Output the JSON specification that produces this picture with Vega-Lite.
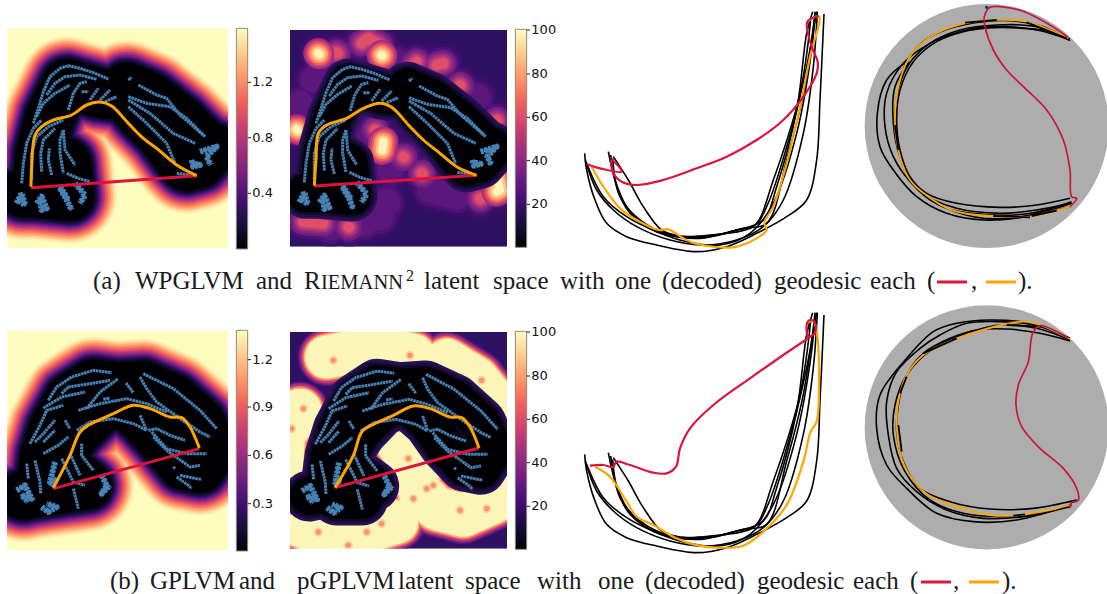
{"$schema":"https://vega.github.io/schema/vega-lite/v6.json","width":1107,"height":594,"padding":0,"autosize":"none","background":"white","config":{"view":{"stroke":null}},
"datasets":{
"bg":[{"k":"c","x":21,"x2":684,"y":85,"y2":745},{"k":"c","x":21,"x2":684,"y":991,"y2":1651},{"k":"p","x":870,"x2":1521,"y":90,"y2":740},{"k":"p","x":870,"x2":1521,"y":996,"y2":1646}],
"masks":[{"x":0,"x2":21,"y":0,"y2":1782},{"x":684,"x2":870,"y":0,"y2":1782},{"x":1521,"x2":1650,"y":0,"y2":1782},{"x":0,"x2":870,"y":0,"y2":85},{"x":0,"x2":870,"y":745,"y2":991},{"x":0,"x2":870,"y":1651,"y2":1782},{"x":870,"x2":1521,"y":0,"y2":90},{"x":870,"x2":1521,"y":740,"y2":996},{"x":870,"x2":1521,"y":1646,"y2":1782}],
"cb":[{"x":709,"x2":743,"y":85,"y2":747},{"x":1546,"x2":1580,"y":88,"y2":742},{"x":709,"x2":743,"y":991,"y2":1653},{"x":1546,"x2":1580,"y":994,"y2":1648}],
"ticks":[{"x":743,"x2":753,"tx":757,"y":247,"label":"1.2"},{"x":743,"x2":753,"tx":757,"y":413,"label":"0.8"},{"x":743,"x2":753,"tx":757,"y":580,"label":"0.4"},{"x":1580,"x2":1590,"tx":1594,"y":90,"label":"100"},{"x":1580,"x2":1590,"tx":1594,"y":222,"label":"80"},{"x":1580,"x2":1590,"tx":1594,"y":352,"label":"60"},{"x":1580,"x2":1590,"tx":1594,"y":482,"label":"40"},{"x":1580,"x2":1590,"tx":1594,"y":613,"label":"20"},{"x":743,"x2":753,"tx":757,"y":1079,"label":"1.2"},{"x":743,"x2":753,"tx":757,"y":1221,"label":"0.9"},{"x":743,"x2":753,"tx":757,"y":1366,"label":"0.6"},{"x":743,"x2":753,"tx":757,"y":1511,"label":"0.3"},{"x":1580,"x2":1590,"tx":1594,"y":996,"label":"100"},{"x":1580,"x2":1590,"tx":1594,"y":1128,"label":"80"},{"x":1580,"x2":1590,"tx":1594,"y":1258,"label":"60"},{"x":1580,"x2":1590,"tx":1594,"y":1388,"label":"40"},{"x":1580,"x2":1590,"tx":1594,"y":1519,"label":"20"}],
"discs":[{"x":2960,"y":378},{"x":2960,"y":1282}],
"nav":[{"x":2960,"y":22}],
"spots":[{"x":1000,"y":1081},{"x":1230,"y":1066},{"x":1445,"y":1141},{"x":910,"y":1226},{"x":875,"y":1286},{"x":1225,"y":1376},{"x":1240,"y":1496},{"x":1280,"y":1466},{"x":1300,"y":1456},{"x":1380,"y":1531},{"x":1460,"y":1526},{"x":955,"y":1596},{"x":1100,"y":1596},{"x":1145,"y":1571},{"x":1045,"y":1636}],
"txt":[{"k":"m","x":279,"y":867,"label":"(a)"},{"k":"m","x":405,"y":867,"label":"WPGLVM"},{"k":"m","x":768,"y":867,"label":"and"},{"k":"m","x":912,"y":867,"label":"R"},{"k":"c","x":963,"y":867,"label":"IEMANN"},{"k":"s","x":1218,"y":843,"label":"2"},{"k":"m","x":1272,"y":867,"label":"latent"},{"k":"m","x":1479,"y":867,"label":"space"},{"k":"m","x":1680,"y":867,"label":"with"},{"k":"m","x":1845,"y":867,"label":"one"},{"k":"m","x":1986,"y":867,"label":"(decoded)"},{"k":"m","x":2322,"y":867,"label":"geodesic"},{"k":"m","x":2610,"y":867,"label":"each"},{"k":"m","x":2781,"y":867,"label":"("},{"k":"m","x":2913,"y":867,"label":","},{"k":"m","x":3054,"y":867,"label":")."},{"k":"m","x":330,"y":1767,"label":"(b)"},{"k":"m","x":450,"y":1767,"label":"GPLVM"},{"k":"m","x":717,"y":1767,"label":"and"},{"k":"m","x":891,"y":1767,"label":"pGPLVM"},{"k":"m","x":1194,"y":1767,"label":"latent"},{"k":"m","x":1395,"y":1767,"label":"space"},{"k":"m","x":1611,"y":1767,"label":"with"},{"k":"m","x":1794,"y":1767,"label":"one"},{"k":"m","x":1935,"y":1767,"label":"(decoded)"},{"k":"m","x":2271,"y":1767,"label":"geodesic"},{"k":"m","x":2559,"y":1767,"label":"each"},{"k":"m","x":2730,"y":1767,"label":"("},{"k":"m","x":2859,"y":1767,"label":","},{"k":"m","x":3006,"y":1767,"label":")."}],
"paths":[
{"g":"s1","p":1,"x":110,"y":570},{"g":"s1","p":1,"x":120,"y":460},{"g":"s1","p":1,"x":150,"y":350},{"g":"s1","p":1,"x":200,"y":250},{"g":"s1","p":1,"x":300,"y":280},{"g":"s1","p":1,"x":380,"y":290},{"g":"s1","p":1,"x":420,"y":340},{"g":"s1","p":1,"x":480,"y":400},{"g":"s1","p":1,"x":540,"y":480},{"g":"s1","p":1,"x":560,"y":500},
{"g":"s1","p":2,"x":380,"y":260},{"g":"s1","p":2,"x":450,"y":290},{"g":"s1","p":2,"x":540,"y":360},{"g":"s1","p":2,"x":610,"y":430},{"g":"s1","p":2,"x":640,"y":445},{"g":"s1","p":2,"x":600,"y":490},{"g":"s1","p":2,"x":560,"y":500},
{"g":"s1","p":3,"x":70,"y":580},{"g":"s1","p":3,"x":110,"y":580},{"g":"s1","p":3,"x":210,"y":590},{"g":"s1","p":3,"x":200,"y":490},{"g":"s1","p":3,"x":150,"y":460},
{"g":"s1","p":4,"x":70,"y":1486},{"g":"s1","p":4,"x":120,"y":1476},{"g":"s1","p":4,"x":135,"y":1366},{"g":"s1","p":4,"x":160,"y":1286},{"g":"s1","p":4,"x":210,"y":1196},{"g":"s1","p":4,"x":280,"y":1151},{"g":"s1","p":4,"x":350,"y":1161},{"g":"s1","p":4,"x":430,"y":1156},{"g":"s1","p":4,"x":520,"y":1196},{"g":"s1","p":4,"x":600,"y":1266},{"g":"s1","p":4,"x":640,"y":1346},
{"g":"s1","p":5,"x":120,"y":1476},{"g":"s1","p":5,"x":262,"y":1456},{"g":"s1","p":5,"x":170,"y":1386},{"g":"s1","p":5,"x":230,"y":1296},{"g":"s1","p":5,"x":300,"y":1226},{"g":"s1","p":5,"x":370,"y":1206},{"g":"s1","p":5,"x":430,"y":1258},{"g":"s1","p":5,"x":495,"y":1330},{"g":"s1","p":5,"x":550,"y":1396},{"g":"s1","p":5,"x":600,"y":1406},{"g":"s1","p":5,"x":640,"y":1346},
{"g":"s2","p":1,"x":958,"y":570},{"g":"s2","p":1,"x":968,"y":460},{"g":"s2","p":1,"x":998,"y":352},{"g":"s2","p":1,"x":1046,"y":252},{"g":"s2","p":1,"x":1145,"y":282},{"g":"s2","p":1,"x":1223,"y":292},{"g":"s2","p":1,"x":1262,"y":342},{"g":"s2","p":1,"x":1322,"y":402},{"g":"s2","p":1,"x":1381,"y":480},{"g":"s2","p":1,"x":1400,"y":500},
{"g":"s2","p":2,"x":1223,"y":262},{"g":"s2","p":2,"x":1292,"y":292},{"g":"s2","p":2,"x":1381,"y":362},{"g":"s2","p":2,"x":1450,"y":430},{"g":"s2","p":2,"x":1480,"y":445},{"g":"s2","p":2,"x":1440,"y":490},{"g":"s2","p":2,"x":1400,"y":500},
{"g":"s2","p":3,"x":918,"y":580},{"g":"s2","p":3,"x":958,"y":580},{"g":"s2","p":3,"x":1056,"y":588},{"g":"s2","p":3,"x":1046,"y":490},{"g":"s2","p":3,"x":998,"y":460},
{"g":"s2","p":4,"x":927,"y":1488},{"g":"s2","p":4,"x":976,"y":1478},{"g":"s2","p":4,"x":990,"y":1368},{"g":"s2","p":4,"x":1015,"y":1288},{"g":"s2","p":4,"x":1063,"y":1198},{"g":"s2","p":4,"x":1131,"y":1153},{"g":"s2","p":4,"x":1199,"y":1163},{"g":"s2","p":4,"x":1277,"y":1158},{"g":"s2","p":4,"x":1364,"y":1198},{"g":"s2","p":4,"x":1442,"y":1268},{"g":"s2","p":4,"x":1480,"y":1348},
{"g":"s2","p":5,"x":976,"y":1478},{"g":"s2","p":5,"x":1121,"y":1458},{"g":"s2","p":5,"x":1024,"y":1388},{"g":"s2","p":5,"x":1083,"y":1298},{"g":"s2","p":5,"x":1150,"y":1228},{"g":"s2","p":5,"x":1218,"y":1208},{"g":"s2","p":5,"x":1286,"y":1268},{"g":"s2","p":5,"x":1335,"y":1338},{"g":"s2","p":5,"x":1393,"y":1398},{"g":"s2","p":5,"x":1442,"y":1408},{"g":"s2","p":5,"x":1480,"y":1348},
{"g":"s2","p":6,"x":976,"y":1478},{"g":"s2","p":6,"x":1010,"y":1500},{"g":"s2","p":6,"x":1087,"y":1500},
{"g":"rh","p":1,"x":955,"y":160},{"g":"rh","p":1,"x":958,"y":163},{"g":"rh","p":2,"x":1145,"y":165},{"g":"rh","p":2,"x":1147,"y":167},{"g":"rh","p":3,"x":1150,"y":425},{"g":"rh","p":3,"x":1147,"y":450},{"g":"rh","p":4,"x":1490,"y":530},{"g":"rh","p":4,"x":1500,"y":570},{"g":"rh","p":4,"x":1490,"y":575},{"g":"rh","p":5,"x":890,"y":388},{"g":"rh","p":5,"x":892,"y":390},
{"g":"rm","p":6,"x":1010,"y":158},{"g":"rm","p":6,"x":1013,"y":160},{"g":"rm","p":7,"x":1085,"y":130},{"g":"rm","p":7,"x":1105,"y":115},{"g":"rm","p":7,"x":1140,"y":135},{"g":"rm","p":7,"x":1145,"y":165},{"g":"rm","p":8,"x":1250,"y":185},{"g":"rm","p":8,"x":1243,"y":192},{"g":"rm","p":9,"x":1310,"y":195},{"g":"rm","p":9,"x":1330,"y":190},{"g":"rm","p":10,"x":1380,"y":255},{"g":"rm","p":10,"x":1382,"y":257},{"g":"rm","p":11,"x":1125,"y":390},{"g":"rm","p":11,"x":1127,"y":392},{"g":"rm","p":12,"x":1210,"y":470},{"g":"rm","p":12,"x":1212,"y":472},{"g":"rm","p":13,"x":1265,"y":520},{"g":"rm","p":13,"x":1267,"y":522},{"g":"rm","p":14,"x":1440,"y":595},{"g":"rm","p":14,"x":1442,"y":597},{"g":"rm","p":15,"x":1045,"y":680},{"g":"rm","p":15,"x":1047,"y":682},{"g":"rm","p":16,"x":910,"y":665},{"g":"rm","p":16,"x":970,"y":670},{"g":"rm","p":17,"x":1490,"y":360},{"g":"rm","p":17,"x":1492,"y":362},
{"g":"rl","p":18,"x":940,"y":240},{"g":"rl","p":18,"x":975,"y":195},{"g":"rl","p":19,"x":1190,"y":185},{"g":"rl","p":19,"x":1192,"y":187},{"g":"rl","p":20,"x":1430,"y":290},{"g":"rl","p":20,"x":1432,"y":292},{"g":"rl","p":21,"x":1110,"y":410},{"g":"rl","p":21,"x":1130,"y":430},{"g":"rl","p":22,"x":1170,"y":510},{"g":"rl","p":22,"x":1172,"y":512},{"g":"rl","p":23,"x":1290,"y":570},{"g":"rl","p":23,"x":1370,"y":590},{"g":"rl","p":24,"x":1160,"y":605},{"g":"rl","p":24,"x":1162,"y":607},{"g":"rl","p":25,"x":1140,"y":650},{"g":"rl","p":25,"x":1142,"y":652},{"g":"rl","p":26,"x":880,"y":650},{"g":"rl","p":26,"x":882,"y":652},{"g":"rl","p":27,"x":900,"y":310},{"g":"rl","p":27,"x":870,"y":350},{"g":"rl","p":28,"x":1090,"y":670},{"g":"rl","p":28,"x":1092,"y":672},{"g":"rl","p":29,"x":990,"y":680},{"g":"rl","p":29,"x":992,"y":682},
{"g":"rb","p":1,"x":980,"y":1071},{"g":"rb","p":1,"x":1080,"y":1051},{"g":"rb","p":1,"x":1160,"y":1046},{"g":"rb","p":1,"x":1240,"y":1066},{"g":"rb","p":2,"x":1340,"y":1081},{"g":"rb","p":2,"x":1430,"y":1136},{"g":"rb","p":2,"x":1490,"y":1211},{"g":"rb","p":3,"x":900,"y":1231},{"g":"rb","p":3,"x":850,"y":1306},{"g":"rb","p":3,"x":845,"y":1396},{"g":"rb","p":4,"x":900,"y":1576},{"g":"rb","p":4,"x":970,"y":1606},{"g":"rb","p":4,"x":1110,"y":1591},{"g":"rb","p":4,"x":1190,"y":1566},{"g":"rb","p":5,"x":1190,"y":1326},{"g":"rb","p":5,"x":1240,"y":1396},{"g":"rb","p":5,"x":1260,"y":1476},{"g":"rb","p":5,"x":1310,"y":1526},{"g":"rb","p":5,"x":1390,"y":1546},{"g":"rb","p":5,"x":1480,"y":1506},{"g":"rb","p":5,"x":1490,"y":1416},{"g":"rb","p":5,"x":1500,"y":1366},
{"g":"t","p":1,"x":100,"y":370},{"g":"t","p":1,"x":115,"y":325},{"g":"t","p":1,"x":130,"y":275},{"g":"t","p":1,"x":150,"y":230},{"g":"t","p":1,"x":180,"y":205},{"g":"t","p":1,"x":205,"y":197},{"g":"t","p":1,"x":240,"y":205},{"g":"t","p":1,"x":280,"y":218},{"g":"t","p":1,"x":325,"y":237},
{"g":"t","p":2,"x":140,"y":285},{"g":"t","p":2,"x":165,"y":250},{"g":"t","p":2,"x":195,"y":230},{"g":"t","p":2,"x":240,"y":225},{"g":"t","p":2,"x":290,"y":238},
{"g":"t","p":3,"x":110,"y":350},{"g":"t","p":3,"x":130,"y":310},{"g":"t","p":3,"x":165,"y":280},{"g":"t","p":3,"x":210,"y":255},
{"g":"t","p":4,"x":205,"y":330},{"g":"t","p":4,"x":220,"y":280},{"g":"t","p":4,"x":240,"y":250},{"g":"t","p":4,"x":260,"y":245},
{"g":"t","p":5,"x":245,"y":275},{"g":"t","p":5,"x":265,"y":275},{"g":"t","p":6,"x":270,"y":300},{"g":"t","p":6,"x":295,"y":265},{"g":"t","p":7,"x":300,"y":300},{"g":"t","p":7,"x":330,"y":270},{"g":"t","p":8,"x":315,"y":305},{"g":"t","p":8,"x":350,"y":290},
{"g":"t","p":9,"x":65,"y":550},{"g":"t","p":9,"x":70,"y":490},{"g":"t","p":9,"x":80,"y":430},{"g":"t","p":9,"x":100,"y":385},{"g":"t","p":9,"x":125,"y":360},
{"g":"t","p":10,"x":95,"y":540},{"g":"t","p":10,"x":95,"y":460},{"g":"t","p":10,"x":110,"y":410},{"g":"t","p":10,"x":145,"y":380},{"g":"t","p":10,"x":190,"y":360},
{"g":"t","p":11,"x":125,"y":515},{"g":"t","p":11,"x":122,"y":460},{"g":"t","p":11,"x":130,"y":420},{"g":"t","p":11,"x":165,"y":385},
{"g":"t","p":12,"x":155,"y":525},{"g":"t","p":12,"x":145,"y":480},{"g":"t","p":12,"x":148,"y":445},
{"g":"t","p":13,"x":190,"y":390},{"g":"t","p":13,"x":180,"y":420},{"g":"t","p":13,"x":180,"y":460},{"g":"t","p":13,"x":190,"y":520},
{"g":"t","p":14,"x":190,"y":390},{"g":"t","p":14,"x":195,"y":450},{"g":"t","p":14,"x":225,"y":495},
{"g":"t","p":15,"x":50,"y":610},{"g":"t","p":15,"x":65,"y":580},{"g":"t","p":15,"x":75,"y":615},{"g":"t","p":15,"x":55,"y":600},{"g":"t","p":15,"x":70,"y":590},
{"g":"t","p":16,"x":110,"y":610},{"g":"t","p":16,"x":125,"y":590},{"g":"t","p":16,"x":140,"y":625},{"g":"t","p":16,"x":125,"y":630},{"g":"t","p":16,"x":120,"y":600},
{"g":"t","p":17,"x":180,"y":565},{"g":"t","p":17,"x":200,"y":600},{"g":"t","p":17,"x":215,"y":630},{"g":"t","p":18,"x":180,"y":560},{"g":"t","p":18,"x":205,"y":600},{"g":"t","p":18,"x":195,"y":590},
{"g":"t","p":19,"x":225,"y":550},{"g":"t","p":19,"x":255,"y":585},{"g":"t","p":19,"x":240,"y":610},{"g":"t","p":20,"x":200,"y":520},{"g":"t","p":20,"x":235,"y":535},{"g":"t","p":20,"x":270,"y":545},
{"g":"t","p":21,"x":385,"y":240},{"g":"t","p":21,"x":395,"y":232},
{"g":"t","p":22,"x":415,"y":255},{"g":"t","p":22,"x":470,"y":285},{"g":"t","p":22,"x":500,"y":295},{"g":"t","p":22,"x":540,"y":345},{"g":"t","p":22,"x":610,"y":405},
{"g":"t","p":23,"x":385,"y":290},{"g":"t","p":23,"x":440,"y":310},{"g":"t","p":23,"x":510,"y":320},{"g":"t","p":23,"x":560,"y":355},{"g":"t","p":23,"x":615,"y":410},
{"g":"t","p":24,"x":385,"y":300},{"g":"t","p":24,"x":450,"y":340},{"g":"t","p":24,"x":520,"y":400},{"g":"t","p":24,"x":585,"y":430},
{"g":"t","p":25,"x":385,"y":320},{"g":"t","p":25,"x":440,"y":370},{"g":"t","p":25,"x":500,"y":430},{"g":"t","p":25,"x":525,"y":490},
{"g":"t","p":26,"x":530,"y":520},{"g":"t","p":26,"x":570,"y":525},{"g":"t","p":27,"x":575,"y":480},{"g":"t","p":27,"x":580,"y":500},{"g":"t","p":27,"x":600,"y":495},{"g":"t","p":27,"x":578,"y":490},
{"g":"t","p":28,"x":600,"y":455},{"g":"t","p":28,"x":650,"y":440},{"g":"t","p":28,"x":620,"y":470},{"g":"t","p":28,"x":632,"y":495},
{"g":"t","p":31,"x":948,"y":370},{"g":"t","p":31,"x":963,"y":325},{"g":"t","p":31,"x":978,"y":278},{"g":"t","p":31,"x":998,"y":233},{"g":"t","p":31,"x":1028,"y":208},{"g":"t","p":31,"x":1050,"y":200},{"g":"t","p":31,"x":1085,"y":208},{"g":"t","p":31,"x":1125,"y":221},{"g":"t","p":31,"x":1170,"y":240},
{"g":"t","p":32,"x":988,"y":288},{"g":"t","p":32,"x":1013,"y":253},{"g":"t","p":32,"x":1043,"y":233},{"g":"t","p":32,"x":1085,"y":228},{"g":"t","p":32,"x":1135,"y":241},
{"g":"t","p":33,"x":958,"y":350},{"g":"t","p":33,"x":978,"y":313},{"g":"t","p":33,"x":1013,"y":283},{"g":"t","p":33,"x":1055,"y":258},
{"g":"t","p":34,"x":1050,"y":333},{"g":"t","p":34,"x":1065,"y":283},{"g":"t","p":34,"x":1085,"y":253},{"g":"t","p":34,"x":1105,"y":248},
{"g":"t","p":35,"x":1090,"y":278},{"g":"t","p":35,"x":1110,"y":278},{"g":"t","p":36,"x":1115,"y":303},{"g":"t","p":36,"x":1140,"y":268},{"g":"t","p":37,"x":1145,"y":303},{"g":"t","p":37,"x":1175,"y":273},{"g":"t","p":38,"x":1160,"y":308},{"g":"t","p":38,"x":1195,"y":293},
{"g":"t","p":39,"x":913,"y":547},{"g":"t","p":39,"x":918,"y":490},{"g":"t","p":39,"x":928,"y":430},{"g":"t","p":39,"x":948,"y":385},{"g":"t","p":39,"x":973,"y":360},
{"g":"t","p":40,"x":943,"y":537},{"g":"t","p":40,"x":943,"y":460},{"g":"t","p":40,"x":958,"y":410},{"g":"t","p":40,"x":993,"y":380},{"g":"t","p":40,"x":1038,"y":360},
{"g":"t","p":41,"x":973,"y":512},{"g":"t","p":41,"x":970,"y":460},{"g":"t","p":41,"x":978,"y":420},{"g":"t","p":41,"x":1013,"y":385},
{"g":"t","p":42,"x":1003,"y":522},{"g":"t","p":42,"x":993,"y":480},{"g":"t","p":42,"x":996,"y":445},
{"g":"t","p":43,"x":1038,"y":390},{"g":"t","p":43,"x":1028,"y":420},{"g":"t","p":43,"x":1028,"y":460},{"g":"t","p":43,"x":1038,"y":517},
{"g":"t","p":44,"x":1038,"y":390},{"g":"t","p":44,"x":1043,"y":450},{"g":"t","p":44,"x":1070,"y":495},
{"g":"t","p":45,"x":898,"y":607},{"g":"t","p":45,"x":913,"y":577},{"g":"t","p":45,"x":923,"y":612},{"g":"t","p":45,"x":903,"y":597},{"g":"t","p":45,"x":918,"y":587},
{"g":"t","p":46,"x":958,"y":607},{"g":"t","p":46,"x":973,"y":587},{"g":"t","p":46,"x":988,"y":622},{"g":"t","p":46,"x":973,"y":627},{"g":"t","p":46,"x":968,"y":597},
{"g":"t","p":47,"x":1028,"y":562},{"g":"t","p":47,"x":1048,"y":597},{"g":"t","p":47,"x":1060,"y":627},{"g":"t","p":48,"x":1028,"y":557},{"g":"t","p":48,"x":1053,"y":597},{"g":"t","p":48,"x":1043,"y":587},
{"g":"t","p":49,"x":1070,"y":547},{"g":"t","p":49,"x":1100,"y":582},{"g":"t","p":49,"x":1085,"y":607},{"g":"t","p":50,"x":1048,"y":517},{"g":"t","p":50,"x":1080,"y":532},{"g":"t","p":50,"x":1115,"y":542},
{"g":"t","p":51,"x":1227,"y":243},{"g":"t","p":51,"x":1237,"y":235},
{"g":"t","p":52,"x":1257,"y":258},{"g":"t","p":52,"x":1312,"y":288},{"g":"t","p":52,"x":1342,"y":298},{"g":"t","p":52,"x":1382,"y":345},{"g":"t","p":52,"x":1452,"y":405},
{"g":"t","p":53,"x":1227,"y":293},{"g":"t","p":53,"x":1282,"y":313},{"g":"t","p":53,"x":1352,"y":323},{"g":"t","p":53,"x":1402,"y":355},{"g":"t","p":53,"x":1457,"y":410},
{"g":"t","p":54,"x":1227,"y":303},{"g":"t","p":54,"x":1292,"y":340},{"g":"t","p":54,"x":1362,"y":400},{"g":"t","p":54,"x":1427,"y":430},
{"g":"t","p":55,"x":1227,"y":320},{"g":"t","p":55,"x":1282,"y":370},{"g":"t","p":55,"x":1342,"y":430},{"g":"t","p":55,"x":1367,"y":490},
{"g":"t","p":56,"x":1372,"y":517},{"g":"t","p":56,"x":1412,"y":522},{"g":"t","p":57,"x":1417,"y":480},{"g":"t","p":57,"x":1422,"y":497},{"g":"t","p":57,"x":1442,"y":492},{"g":"t","p":57,"x":1420,"y":487},
{"g":"t","p":58,"x":1442,"y":455},{"g":"t","p":58,"x":1490,"y":440},{"g":"t","p":58,"x":1462,"y":470},{"g":"t","p":58,"x":1474,"y":495},
{"g":"t","p":61,"x":145,"y":1201},{"g":"t","p":61,"x":170,"y":1161},{"g":"t","p":61,"x":215,"y":1131},{"g":"t","p":61,"x":280,"y":1111},{"g":"t","p":61,"x":335,"y":1118},
{"g":"t","p":62,"x":185,"y":1181},{"g":"t","p":62,"x":205,"y":1161},{"g":"t","p":62,"x":270,"y":1151},{"g":"t","p":62,"x":330,"y":1141},
{"g":"t","p":63,"x":130,"y":1224},{"g":"t","p":63,"x":185,"y":1191},{"g":"t","p":63,"x":255,"y":1176},
{"g":"t","p":64,"x":90,"y":1331},{"g":"t","p":64,"x":120,"y":1276},{"g":"t","p":64,"x":140,"y":1231},{"g":"t","p":64,"x":190,"y":1216},
{"g":"t","p":65,"x":260,"y":1226},{"g":"t","p":65,"x":300,"y":1176},{"g":"t","p":65,"x":355,"y":1136},{"g":"t","p":66,"x":310,"y":1198},{"g":"t","p":66,"x":330,"y":1194},
{"g":"t","p":67,"x":235,"y":1231},{"g":"t","p":67,"x":300,"y":1211},{"g":"t","p":67,"x":380,"y":1196},{"g":"t","p":67,"x":440,"y":1211},{"g":"t","p":67,"x":500,"y":1236},
{"g":"t","p":68,"x":378,"y":1149},{"g":"t","p":68,"x":400,"y":1178},
{"g":"t","p":69,"x":230,"y":1291},{"g":"t","p":69,"x":270,"y":1266},{"g":"t","p":69,"x":340,"y":1256},{"g":"t","p":69,"x":400,"y":1271},{"g":"t","p":69,"x":440,"y":1291},
{"g":"t","p":70,"x":105,"y":1326},{"g":"t","p":70,"x":130,"y":1301},{"g":"t","p":70,"x":165,"y":1261},{"g":"t","p":71,"x":130,"y":1326},{"g":"t","p":71,"x":165,"y":1291},{"g":"t","p":72,"x":195,"y":1261},{"g":"t","p":72,"x":210,"y":1286},
{"g":"t","p":73,"x":130,"y":1361},{"g":"t","p":73,"x":175,"y":1336},{"g":"t","p":73,"x":205,"y":1311},
{"g":"t","p":74,"x":420,"y":1131},{"g":"t","p":74,"x":440,"y":1166},{"g":"t","p":74,"x":470,"y":1206},{"g":"t","p":74,"x":540,"y":1256},{"g":"t","p":74,"x":600,"y":1296},{"g":"t","p":74,"x":630,"y":1311},
{"g":"t","p":75,"x":430,"y":1121},{"g":"t","p":75,"x":520,"y":1166},{"g":"t","p":75,"x":600,"y":1231},{"g":"t","p":75,"x":650,"y":1286},
{"g":"t","p":76,"x":420,"y":1246},{"g":"t","p":76,"x":440,"y":1291},
{"g":"t","p":77,"x":445,"y":1291},{"g":"t","p":77,"x":470,"y":1286},{"g":"t","p":77,"x":510,"y":1306},{"g":"t","p":77,"x":555,"y":1321},
{"g":"t","p":78,"x":460,"y":1311},{"g":"t","p":78,"x":500,"y":1351},{"g":"t","p":78,"x":570,"y":1401},{"g":"t","p":78,"x":600,"y":1396},
{"g":"t","p":79,"x":455,"y":1296},{"g":"t","p":79,"x":500,"y":1346},{"g":"t","p":79,"x":560,"y":1361},{"g":"t","p":79,"x":620,"y":1361},
{"g":"t","p":80,"x":520,"y":1401},{"g":"t","p":80,"x":525,"y":1406},{"g":"t","p":81,"x":540,"y":1426},{"g":"t","p":81,"x":590,"y":1436},{"g":"t","p":81,"x":605,"y":1438},{"g":"t","p":82,"x":530,"y":1431},{"g":"t","p":82,"x":565,"y":1456},{"g":"t","p":82,"x":575,"y":1466},
{"g":"t","p":83,"x":80,"y":1391},{"g":"t","p":83,"x":85,"y":1436},{"g":"t","p":84,"x":105,"y":1381},{"g":"t","p":84,"x":120,"y":1446},{"g":"t","p":84,"x":122,"y":1481},
{"g":"t","p":85,"x":165,"y":1386},{"g":"t","p":85,"x":150,"y":1446},{"g":"t","p":85,"x":165,"y":1440},{"g":"t","p":85,"x":155,"y":1460},
{"g":"t","p":86,"x":185,"y":1376},{"g":"t","p":86,"x":220,"y":1446},{"g":"t","p":86,"x":255,"y":1456},{"g":"t","p":87,"x":210,"y":1361},{"g":"t","p":87,"x":240,"y":1426},
{"g":"t","p":88,"x":245,"y":1331},{"g":"t","p":88,"x":245,"y":1366},{"g":"t","p":88,"x":280,"y":1411},{"g":"t","p":89,"x":220,"y":1466},{"g":"t","p":89,"x":235,"y":1526},
{"g":"t","p":90,"x":305,"y":1426},{"g":"t","p":90,"x":320,"y":1456},{"g":"t","p":90,"x":305,"y":1481},{"g":"t","p":90,"x":330,"y":1456},
{"g":"t","p":91,"x":50,"y":1471},{"g":"t","p":91,"x":75,"y":1456},{"g":"t","p":91,"x":95,"y":1496},{"g":"t","p":91,"x":65,"y":1486},{"g":"t","p":91,"x":85,"y":1506},
{"g":"t","p":92,"x":125,"y":1521},{"g":"t","p":92,"x":145,"y":1536},{"g":"t","p":92,"x":170,"y":1521},{"g":"t","p":92,"x":140,"y":1511},
{"g":"t","p":101,"x":1001,"y":1203},{"g":"t","p":101,"x":1024,"y":1163},{"g":"t","p":101,"x":1067,"y":1133},{"g":"t","p":101,"x":1132,"y":1113},{"g":"t","p":101,"x":1183,"y":1120},
{"g":"t","p":102,"x":1037,"y":1183},{"g":"t","p":102,"x":1057,"y":1163},{"g":"t","p":102,"x":1122,"y":1153},{"g":"t","p":102,"x":1178,"y":1143},
{"g":"t","p":103,"x":986,"y":1226},{"g":"t","p":103,"x":1037,"y":1193},{"g":"t","p":103,"x":1107,"y":1178},
{"g":"t","p":104,"x":946,"y":1333},{"g":"t","p":104,"x":976,"y":1278},{"g":"t","p":104,"x":996,"y":1233},{"g":"t","p":104,"x":1042,"y":1218},
{"g":"t","p":105,"x":1112,"y":1228},{"g":"t","p":105,"x":1148,"y":1178},{"g":"t","p":105,"x":1203,"y":1138},{"g":"t","p":106,"x":1158,"y":1200},{"g":"t","p":106,"x":1178,"y":1196},
{"g":"t","p":107,"x":1087,"y":1233},{"g":"t","p":107,"x":1148,"y":1213},{"g":"t","p":107,"x":1228,"y":1198},{"g":"t","p":107,"x":1283,"y":1213},{"g":"t","p":107,"x":1343,"y":1238},
{"g":"t","p":108,"x":1226,"y":1151},{"g":"t","p":108,"x":1248,"y":1180},
{"g":"t","p":109,"x":1082,"y":1293},{"g":"t","p":109,"x":1122,"y":1268},{"g":"t","p":109,"x":1188,"y":1258},{"g":"t","p":109,"x":1248,"y":1273},{"g":"t","p":109,"x":1283,"y":1293},
{"g":"t","p":110,"x":961,"y":1328},{"g":"t","p":110,"x":986,"y":1303},{"g":"t","p":110,"x":1017,"y":1263},{"g":"t","p":111,"x":986,"y":1328},{"g":"t","p":111,"x":1017,"y":1293},{"g":"t","p":112,"x":1047,"y":1263},{"g":"t","p":112,"x":1062,"y":1288},
{"g":"t","p":113,"x":986,"y":1363},{"g":"t","p":113,"x":1027,"y":1338},{"g":"t","p":113,"x":1057,"y":1313},
{"g":"t","p":114,"x":1268,"y":1133},{"g":"t","p":114,"x":1283,"y":1168},{"g":"t","p":114,"x":1313,"y":1208},{"g":"t","p":114,"x":1383,"y":1258},{"g":"t","p":114,"x":1443,"y":1298},{"g":"t","p":114,"x":1473,"y":1313},
{"g":"t","p":115,"x":1278,"y":1123},{"g":"t","p":115,"x":1363,"y":1168},{"g":"t","p":115,"x":1443,"y":1233},{"g":"t","p":115,"x":1493,"y":1288},
{"g":"t","p":116,"x":1268,"y":1248},{"g":"t","p":116,"x":1283,"y":1293},
{"g":"t","p":117,"x":1288,"y":1293},{"g":"t","p":117,"x":1313,"y":1288},{"g":"t","p":117,"x":1353,"y":1308},{"g":"t","p":117,"x":1398,"y":1323},
{"g":"t","p":118,"x":1303,"y":1313},{"g":"t","p":118,"x":1343,"y":1353},{"g":"t","p":118,"x":1413,"y":1403},{"g":"t","p":118,"x":1443,"y":1398},
{"g":"t","p":119,"x":1298,"y":1298},{"g":"t","p":119,"x":1343,"y":1348},{"g":"t","p":119,"x":1403,"y":1363},{"g":"t","p":119,"x":1463,"y":1363},
{"g":"t","p":120,"x":1363,"y":1403},{"g":"t","p":120,"x":1368,"y":1408},{"g":"t","p":121,"x":1383,"y":1428},{"g":"t","p":121,"x":1433,"y":1438},{"g":"t","p":121,"x":1448,"y":1440},{"g":"t","p":122,"x":1373,"y":1433},{"g":"t","p":122,"x":1408,"y":1458},{"g":"t","p":122,"x":1418,"y":1468},
{"g":"t","p":123,"x":936,"y":1393},{"g":"t","p":123,"x":941,"y":1438},{"g":"t","p":124,"x":961,"y":1383},{"g":"t","p":124,"x":976,"y":1448},{"g":"t","p":124,"x":978,"y":1483},
{"g":"t","p":125,"x":1017,"y":1388},{"g":"t","p":125,"x":1006,"y":1448},{"g":"t","p":125,"x":1017,"y":1442},{"g":"t","p":125,"x":1011,"y":1462},
{"g":"t","p":126,"x":1037,"y":1378},{"g":"t","p":126,"x":1072,"y":1448},{"g":"t","p":126,"x":1107,"y":1458},{"g":"t","p":127,"x":1062,"y":1363},{"g":"t","p":127,"x":1092,"y":1428},
{"g":"t","p":128,"x":1097,"y":1333},{"g":"t","p":128,"x":1097,"y":1368},{"g":"t","p":128,"x":1132,"y":1413},{"g":"t","p":129,"x":1072,"y":1468},{"g":"t","p":129,"x":1087,"y":1528},
{"g":"t","p":130,"x":1153,"y":1428},{"g":"t","p":130,"x":1168,"y":1458},{"g":"t","p":130,"x":1153,"y":1483},{"g":"t","p":130,"x":1178,"y":1458},
{"g":"t","p":131,"x":906,"y":1473},{"g":"t","p":131,"x":931,"y":1458},{"g":"t","p":131,"x":951,"y":1498},{"g":"t","p":131,"x":921,"y":1488},{"g":"t","p":131,"x":941,"y":1508},
{"g":"t","p":132,"x":981,"y":1523},{"g":"t","p":132,"x":1001,"y":1538},{"g":"t","p":132,"x":1022,"y":1523},{"g":"t","p":132,"x":996,"y":1513},
{"g":"rd","p":1,"x":93,"y":563},{"g":"rd","p":1,"x":590,"y":527},{"g":"rd","p":2,"x":943,"y":558},{"g":"rd","p":2,"x":1430,"y":526},{"g":"rd","p":3,"x":160,"y":1466},{"g":"rd","p":3,"x":598,"y":1346},{"g":"rd","p":4,"x":1005,"y":1463},{"g":"rd","p":4,"x":1437,"y":1344},{"g":"rd","p":5,"x":2811,"y":846},{"g":"rd","p":5,"x":2901,"y":846},{"g":"rd","p":6,"x":2763,"y":1746},{"g":"rd","p":6,"x":2853,"y":1746},
{"g":"or","p":5,"x":2958,"y":846},{"g":"or","p":5,"x":3048,"y":846},{"g":"or","p":6,"x":2907,"y":1746},{"g":"or","p":6,"x":2997,"y":1746},
{"g":"or","p":1,"x":93,"y":560},{"g":"or","p":1,"x":95,"y":500},{"g":"or","p":1,"x":105,"y":405},{"g":"or","p":1,"x":125,"y":380},{"g":"or","p":1,"x":160,"y":360},{"g":"or","p":1,"x":215,"y":345},{"g":"or","p":1,"x":260,"y":315},{"g":"or","p":1,"x":300,"y":306},{"g":"or","p":1,"x":335,"y":318},{"g":"or","p":1,"x":385,"y":370},{"g":"or","p":1,"x":430,"y":415},{"g":"or","p":1,"x":470,"y":445},{"g":"or","p":1,"x":530,"y":495},{"g":"or","p":1,"x":590,"y":527},
{"g":"or","p":2,"x":943,"y":557},{"g":"or","p":2,"x":948,"y":480},{"g":"or","p":2,"x":955,"y":400},{"g":"or","p":2,"x":980,"y":375},{"g":"or","p":2,"x":1040,"y":355},{"g":"or","p":2,"x":1090,"y":325},{"g":"or","p":2,"x":1140,"y":310},{"g":"or","p":2,"x":1175,"y":322},{"g":"or","p":2,"x":1230,"y":380},{"g":"or","p":2,"x":1270,"y":420},{"g":"or","p":2,"x":1320,"y":460},{"g":"or","p":2,"x":1370,"y":500},{"g":"or","p":2,"x":1430,"y":526},
{"g":"or","p":3,"x":160,"y":1464},{"g":"or","p":3,"x":210,"y":1366},{"g":"or","p":3,"x":240,"y":1296},{"g":"or","p":3,"x":265,"y":1276},{"g":"or","p":3,"x":340,"y":1241},{"g":"or","p":3,"x":400,"y":1216},{"g":"or","p":3,"x":450,"y":1226},{"g":"or","p":3,"x":510,"y":1251},{"g":"or","p":3,"x":545,"y":1253},{"g":"or","p":3,"x":570,"y":1281},{"g":"or","p":3,"x":598,"y":1344},
{"g":"or","p":4,"x":1005,"y":1463},{"g":"or","p":4,"x":1060,"y":1366},{"g":"or","p":4,"x":1085,"y":1296},{"g":"or","p":4,"x":1110,"y":1278},{"g":"or","p":4,"x":1180,"y":1246},{"g":"or","p":4,"x":1240,"y":1218},{"g":"or","p":4,"x":1290,"y":1226},{"g":"or","p":4,"x":1350,"y":1251},{"g":"or","p":4,"x":1385,"y":1253},{"g":"or","p":4,"x":1410,"y":1281},{"g":"or","p":4,"x":1437,"y":1344},
{"g":"k","p":1,"x":1754,"y":460},{"g":"k","p":1,"x":1760,"y":510},{"g":"k","p":1,"x":1785,"y":600},{"g":"k","p":1,"x":1820,"y":670},{"g":"k","p":1,"x":1880,"y":710},{"g":"k","p":1,"x":1970,"y":735},{"g":"k","p":1,"x":2090,"y":755},{"g":"k","p":1,"x":2180,"y":740},{"g":"k","p":1,"x":2270,"y":700},{"g":"k","p":1,"x":2360,"y":650},{"g":"k","p":1,"x":2420,"y":600},{"g":"k","p":1,"x":2450,"y":480},{"g":"k","p":1,"x":2460,"y":300},{"g":"k","p":1,"x":2472,"y":42},
{"g":"k","p":2,"x":1756,"y":480},{"g":"k","p":2,"x":1790,"y":570},{"g":"k","p":2,"x":1840,"y":630},{"g":"k","p":2,"x":1910,"y":680},{"g":"k","p":2,"x":2010,"y":720},{"g":"k","p":2,"x":2110,"y":735},{"g":"k","p":2,"x":2210,"y":720},{"g":"k","p":2,"x":2290,"y":680},{"g":"k","p":2,"x":2350,"y":600},{"g":"k","p":2,"x":2410,"y":400},{"g":"k","p":2,"x":2440,"y":200},{"g":"k","p":2,"x":2452,"y":35},
{"g":"k","p":3,"x":1760,"y":490},{"g":"k","p":3,"x":1810,"y":590},{"g":"k","p":3,"x":1880,"y":650},{"g":"k","p":3,"x":1970,"y":695},{"g":"k","p":3,"x":2060,"y":725},{"g":"k","p":3,"x":2160,"y":735},{"g":"k","p":3,"x":2250,"y":700},{"g":"k","p":3,"x":2320,"y":610},{"g":"k","p":3,"x":2390,"y":400},{"g":"k","p":3,"x":2435,"y":150},{"g":"k","p":3,"x":2445,"y":35},
{"g":"k","p":4,"x":1825,"y":455},{"g":"k","p":4,"x":1845,"y":540},{"g":"k","p":4,"x":1880,"y":620},{"g":"k","p":4,"x":1940,"y":680},{"g":"k","p":4,"x":2010,"y":705},{"g":"k","p":4,"x":2110,"y":710},{"g":"k","p":4,"x":2210,"y":690},{"g":"k","p":4,"x":2290,"y":660},{"g":"k","p":4,"x":2330,"y":560},{"g":"k","p":4,"x":2390,"y":330},{"g":"k","p":4,"x":2420,"y":100},{"g":"k","p":4,"x":2438,"y":35},
{"g":"k","p":5,"x":1832,"y":465},{"g":"k","p":5,"x":1850,"y":560},{"g":"k","p":5,"x":1890,"y":640},{"g":"k","p":5,"x":1970,"y":695},{"g":"k","p":5,"x":2050,"y":712},{"g":"k","p":5,"x":2140,"y":708},{"g":"k","p":5,"x":2230,"y":685},{"g":"k","p":5,"x":2300,"y":670},{"g":"k","p":5,"x":2360,"y":480},{"g":"k","p":5,"x":2410,"y":280},{"g":"k","p":5,"x":2445,"y":40},
{"g":"k","p":6,"x":1840,"y":470},{"g":"k","p":6,"x":1885,"y":540},{"g":"k","p":6,"x":1930,"y":620},{"g":"k","p":6,"x":1985,"y":690},{"g":"k","p":6,"x":2040,"y":708},{"g":"k","p":6,"x":2130,"y":705},{"g":"k","p":6,"x":2260,"y":680},{"g":"k","p":6,"x":2300,"y":620},{"g":"k","p":6,"x":2380,"y":370},{"g":"k","p":6,"x":2420,"y":200},{"g":"k","p":6,"x":2450,"y":35},
{"g":"k","p":7,"x":1838,"y":475},{"g":"k","p":7,"x":1860,"y":590},{"g":"k","p":7,"x":1920,"y":660},{"g":"k","p":7,"x":2010,"y":705},{"g":"k","p":7,"x":2100,"y":715},{"g":"k","p":7,"x":2210,"y":690},{"g":"k","p":7,"x":2265,"y":675},{"g":"k","p":7,"x":2320,"y":540},{"g":"k","p":7,"x":2400,"y":280},{"g":"k","p":7,"x":2432,"y":60},
{"g":"k","p":8,"x":1754,"y":1363},{"g":"k","p":8,"x":1760,"y":1413},{"g":"k","p":8,"x":1785,"y":1503},{"g":"k","p":8,"x":1820,"y":1573},{"g":"k","p":8,"x":1880,"y":1613},{"g":"k","p":8,"x":1970,"y":1638},{"g":"k","p":8,"x":2090,"y":1658},{"g":"k","p":8,"x":2180,"y":1643},{"g":"k","p":8,"x":2270,"y":1603},{"g":"k","p":8,"x":2360,"y":1553},{"g":"k","p":8,"x":2420,"y":1503},{"g":"k","p":8,"x":2450,"y":1383},{"g":"k","p":8,"x":2460,"y":1203},{"g":"k","p":8,"x":2472,"y":945},
{"g":"k","p":9,"x":1756,"y":1383},{"g":"k","p":9,"x":1790,"y":1473},{"g":"k","p":9,"x":1840,"y":1533},{"g":"k","p":9,"x":1910,"y":1583},{"g":"k","p":9,"x":2010,"y":1623},{"g":"k","p":9,"x":2110,"y":1638},{"g":"k","p":9,"x":2210,"y":1623},{"g":"k","p":9,"x":2290,"y":1583},{"g":"k","p":9,"x":2350,"y":1503},{"g":"k","p":9,"x":2410,"y":1303},{"g":"k","p":9,"x":2440,"y":1103},{"g":"k","p":9,"x":2452,"y":938},
{"g":"k","p":10,"x":1760,"y":1393},{"g":"k","p":10,"x":1810,"y":1493},{"g":"k","p":10,"x":1880,"y":1553},{"g":"k","p":10,"x":1970,"y":1598},{"g":"k","p":10,"x":2060,"y":1628},{"g":"k","p":10,"x":2160,"y":1638},{"g":"k","p":10,"x":2250,"y":1603},{"g":"k","p":10,"x":2320,"y":1513},{"g":"k","p":10,"x":2390,"y":1303},{"g":"k","p":10,"x":2435,"y":1053},{"g":"k","p":10,"x":2445,"y":938},
{"g":"k","p":11,"x":1825,"y":1358},{"g":"k","p":11,"x":1845,"y":1443},{"g":"k","p":11,"x":1880,"y":1523},{"g":"k","p":11,"x":1940,"y":1583},{"g":"k","p":11,"x":2010,"y":1608},{"g":"k","p":11,"x":2110,"y":1613},{"g":"k","p":11,"x":2210,"y":1593},{"g":"k","p":11,"x":2290,"y":1563},{"g":"k","p":11,"x":2330,"y":1463},{"g":"k","p":11,"x":2390,"y":1233},{"g":"k","p":11,"x":2420,"y":1003},{"g":"k","p":11,"x":2438,"y":938},
{"g":"k","p":12,"x":1832,"y":1368},{"g":"k","p":12,"x":1850,"y":1463},{"g":"k","p":12,"x":1890,"y":1543},{"g":"k","p":12,"x":1970,"y":1598},{"g":"k","p":12,"x":2050,"y":1615},{"g":"k","p":12,"x":2140,"y":1611},{"g":"k","p":12,"x":2230,"y":1588},{"g":"k","p":12,"x":2300,"y":1573},{"g":"k","p":12,"x":2360,"y":1383},{"g":"k","p":12,"x":2410,"y":1183},{"g":"k","p":12,"x":2445,"y":943},
{"g":"k","p":13,"x":1840,"y":1373},{"g":"k","p":13,"x":1885,"y":1443},{"g":"k","p":13,"x":1930,"y":1523},{"g":"k","p":13,"x":1985,"y":1593},{"g":"k","p":13,"x":2040,"y":1611},{"g":"k","p":13,"x":2130,"y":1608},{"g":"k","p":13,"x":2260,"y":1583},{"g":"k","p":13,"x":2300,"y":1523},{"g":"k","p":13,"x":2380,"y":1273},{"g":"k","p":13,"x":2420,"y":1103},{"g":"k","p":13,"x":2450,"y":938},
{"g":"k","p":14,"x":1838,"y":1378},{"g":"k","p":14,"x":1860,"y":1493},{"g":"k","p":14,"x":1920,"y":1563},{"g":"k","p":14,"x":2010,"y":1608},{"g":"k","p":14,"x":2100,"y":1618},{"g":"k","p":14,"x":2210,"y":1593},{"g":"k","p":14,"x":2265,"y":1578},{"g":"k","p":14,"x":2320,"y":1443},{"g":"k","p":14,"x":2400,"y":1183},{"g":"k","p":14,"x":2432,"y":963},
{"g":"k","p":21,"x":3210,"y":122},{"g":"k","p":21,"x":3150,"y":95},{"g":"k","p":21,"x":3070,"y":85},{"g":"k","p":21,"x":2980,"y":83},{"g":"k","p":21,"x":2890,"y":95},{"g":"k","p":21,"x":2810,"y":125},{"g":"k","p":21,"x":2740,"y":185},{"g":"k","p":21,"x":2700,"y":270},{"g":"k","p":21,"x":2690,"y":360},{"g":"k","p":21,"x":2700,"y":450},{"g":"k","p":21,"x":2730,"y":530},{"g":"k","p":21,"x":2780,"y":580},{"g":"k","p":21,"x":2870,"y":610},{"g":"k","p":21,"x":3000,"y":622},{"g":"k","p":21,"x":3110,"y":615},{"g":"k","p":21,"x":3210,"y":595},
{"g":"k","p":22,"x":3205,"y":118},{"g":"k","p":22,"x":3130,"y":80},{"g":"k","p":22,"x":3030,"y":62},{"g":"k","p":22,"x":2950,"y":65},{"g":"k","p":22,"x":2850,"y":85},{"g":"k","p":22,"x":2770,"y":125},{"g":"k","p":22,"x":2720,"y":185},{"g":"k","p":22,"x":2700,"y":250},
{"g":"k","p":23,"x":3205,"y":118},{"g":"k","p":23,"x":3110,"y":90},{"g":"k","p":23,"x":2980,"y":80},{"g":"k","p":23,"x":2880,"y":95},{"g":"k","p":23,"x":2790,"y":130},{"g":"k","p":23,"x":2710,"y":190},{"g":"k","p":23,"x":2660,"y":280},{"g":"k","p":23,"x":2655,"y":380},{"g":"k","p":23,"x":2680,"y":470},{"g":"k","p":23,"x":2735,"y":550},{"g":"k","p":23,"x":2810,"y":610},{"g":"k","p":23,"x":2920,"y":650},{"g":"k","p":23,"x":3030,"y":655},{"g":"k","p":23,"x":3150,"y":630},{"g":"k","p":23,"x":3215,"y":610},
{"g":"k","p":24,"x":2720,"y":185},{"g":"k","p":24,"x":2660,"y":240},{"g":"k","p":24,"x":2632,"y":340},{"g":"k","p":24,"x":2640,"y":440},{"g":"k","p":24,"x":2680,"y":510},{"g":"k","p":24,"x":2750,"y":590},{"g":"k","p":24,"x":2840,"y":640},{"g":"k","p":24,"x":2950,"y":660},{"g":"k","p":24,"x":3080,"y":650},{"g":"k","p":24,"x":3210,"y":620},
{"g":"k","p":25,"x":2728,"y":185},{"g":"k","p":25,"x":2685,"y":260},{"g":"k","p":25,"x":2680,"y":370},{"g":"k","p":25,"x":2700,"y":470},{"g":"k","p":25,"x":2755,"y":570},{"g":"k","p":25,"x":2840,"y":625},{"g":"k","p":25,"x":2980,"y":645},{"g":"k","p":25,"x":3090,"y":640},{"g":"k","p":25,"x":3215,"y":605},
{"g":"k","p":26,"x":3210,"y":118},{"g":"k","p":26,"x":3110,"y":80},{"g":"k","p":26,"x":2990,"y":75},{"g":"k","p":26,"x":2880,"y":90},{"g":"k","p":26,"x":2790,"y":130},{"g":"k","p":26,"x":2725,"y":195},{"g":"k","p":26,"x":2690,"y":290},{"g":"k","p":26,"x":2688,"y":380},{"g":"k","p":26,"x":2710,"y":500},{"g":"k","p":26,"x":2760,"y":575},{"g":"k","p":26,"x":2870,"y":625},{"g":"k","p":26,"x":3000,"y":640},{"g":"k","p":26,"x":3110,"y":630},{"g":"k","p":26,"x":3210,"y":610},
{"g":"k","p":31,"x":3210,"y":1023},{"g":"k","p":31,"x":3120,"y":1000},{"g":"k","p":31,"x":3020,"y":987},{"g":"k","p":31,"x":2930,"y":990},{"g":"k","p":31,"x":2850,"y":1015},{"g":"k","p":31,"x":2770,"y":1060},{"g":"k","p":31,"x":2720,"y":1125},{"g":"k","p":31,"x":2695,"y":1215},{"g":"k","p":31,"x":2690,"y":1295},{"g":"k","p":31,"x":2710,"y":1385},{"g":"k","p":31,"x":2760,"y":1465},{"g":"k","p":31,"x":2850,"y":1505},{"g":"k","p":31,"x":2970,"y":1527},{"g":"k","p":31,"x":3100,"y":1525},{"g":"k","p":31,"x":3230,"y":1500},
{"g":"k","p":32,"x":3210,"y":1015},{"g":"k","p":32,"x":3110,"y":977},{"g":"k","p":32,"x":3000,"y":965},{"g":"k","p":32,"x":2900,"y":970},{"g":"k","p":32,"x":2820,"y":1005},{"g":"k","p":32,"x":2760,"y":1045},{"g":"k","p":32,"x":2690,"y":1115},{"g":"k","p":32,"x":2660,"y":1205},{"g":"k","p":32,"x":2665,"y":1305},{"g":"k","p":32,"x":2690,"y":1405},{"g":"k","p":32,"x":2750,"y":1475},{"g":"k","p":32,"x":2840,"y":1530},{"g":"k","p":32,"x":2950,"y":1555},{"g":"k","p":32,"x":3070,"y":1550},{"g":"k","p":32,"x":3210,"y":1520},
{"g":"k","p":33,"x":3210,"y":1015},{"g":"k","p":33,"x":3090,"y":970},{"g":"k","p":33,"x":2970,"y":960},{"g":"k","p":33,"x":2870,"y":970},{"g":"k","p":33,"x":2800,"y":995},{"g":"k","p":33,"x":2720,"y":1075},{"g":"k","p":33,"x":2640,"y":1185},{"g":"k","p":33,"x":2630,"y":1285},{"g":"k","p":33,"x":2660,"y":1395},{"g":"k","p":33,"x":2720,"y":1465},{"g":"k","p":33,"x":2810,"y":1540},{"g":"k","p":33,"x":2920,"y":1565},{"g":"k","p":33,"x":3050,"y":1560},{"g":"k","p":33,"x":3210,"y":1515},
{"g":"k","p":34,"x":3210,"y":1020},{"g":"k","p":34,"x":3110,"y":985},{"g":"k","p":34,"x":3000,"y":975},{"g":"k","p":34,"x":2900,"y":1000},{"g":"k","p":34,"x":2800,"y":1045},{"g":"k","p":34,"x":2720,"y":1125},{"g":"k","p":34,"x":2685,"y":1215},{"g":"k","p":34,"x":2680,"y":1305},{"g":"k","p":34,"x":2715,"y":1415},{"g":"k","p":34,"x":2790,"y":1500},{"g":"k","p":34,"x":2890,"y":1540},{"g":"k","p":34,"x":3020,"y":1550},{"g":"k","p":34,"x":3140,"y":1535},{"g":"k","p":34,"x":3215,"y":1515},
{"g":"co","p":1,"x":1775,"y":500},{"g":"co","p":1,"x":1810,"y":560},{"g":"co","p":1,"x":1860,"y":625},{"g":"co","p":1,"x":1910,"y":660},{"g":"co","p":1,"x":1975,"y":690},{"g":"co","p":1,"x":2005,"y":688},{"g":"co","p":1,"x":2050,"y":715},{"g":"co","p":1,"x":2085,"y":730},{"g":"co","p":1,"x":2200,"y":742},{"g":"co","p":1,"x":2270,"y":715},{"g":"co","p":1,"x":2300,"y":690},{"g":"co","p":1,"x":2293,"y":668},{"g":"co","p":1,"x":2320,"y":620},{"g":"co","p":1,"x":2360,"y":490},{"g":"co","p":1,"x":2400,"y":320},{"g":"co","p":1,"x":2430,"y":170},{"g":"co","p":1,"x":2457,"y":50},{"g":"co","p":1,"x":2422,"y":65},
{"g":"co","p":2,"x":1785,"y":1400},{"g":"co","p":2,"x":1830,"y":1430},{"g":"co","p":2,"x":1880,"y":1505},{"g":"co","p":2,"x":1910,"y":1550},{"g":"co","p":2,"x":1960,"y":1575},{"g":"co","p":2,"x":2020,"y":1610},{"g":"co","p":2,"x":2080,"y":1633},{"g":"co","p":2,"x":2160,"y":1643},{"g":"co","p":2,"x":2230,"y":1637},{"g":"co","p":2,"x":2290,"y":1595},{"g":"co","p":2,"x":2360,"y":1515},{"g":"co","p":2,"x":2410,"y":1385},{"g":"co","p":2,"x":2432,"y":1295},{"g":"co","p":2,"x":2450,"y":1265},{"g":"co","p":2,"x":2457,"y":1165},{"g":"co","p":2,"x":2450,"y":995},{"g":"co","p":2,"x":2440,"y":963},{"g":"co","p":2,"x":2425,"y":967},
{"g":"cr","p":1,"x":1760,"y":492},{"g":"cr","p":1,"x":1800,"y":505},{"g":"cr","p":1,"x":1865,"y":515},{"g":"cr","p":1,"x":1835,"y":480},{"g":"cr","p":1,"x":1840,"y":520},{"g":"cr","p":1,"x":1865,"y":545},{"g":"cr","p":1,"x":1910,"y":555},{"g":"cr","p":1,"x":1990,"y":540},{"g":"cr","p":1,"x":2090,"y":505},{"g":"cr","p":1,"x":2180,"y":470},{"g":"cr","p":1,"x":2270,"y":420},{"g":"cr","p":1,"x":2350,"y":360},{"g":"cr","p":1,"x":2410,"y":290},{"g":"cr","p":1,"x":2450,"y":220},{"g":"cr","p":1,"x":2453,"y":185},{"g":"cr","p":1,"x":2435,"y":140},{"g":"cr","p":1,"x":2422,"y":65},{"g":"cr","p":1,"x":2457,"y":48},
{"g":"cr","p":2,"x":1770,"y":1397},{"g":"cr","p":2,"x":1810,"y":1395},{"g":"cr","p":2,"x":1840,"y":1401},{"g":"cr","p":2,"x":1848,"y":1385},{"g":"cr","p":2,"x":1890,"y":1395},{"g":"cr","p":2,"x":1960,"y":1418},{"g":"cr","p":2,"x":2000,"y":1420},{"g":"cr","p":2,"x":2028,"y":1400},{"g":"cr","p":2,"x":2040,"y":1345},{"g":"cr","p":2,"x":2070,"y":1285},{"g":"cr","p":2,"x":2140,"y":1215},{"g":"cr","p":2,"x":2250,"y":1135},{"g":"cr","p":2,"x":2350,"y":1065},{"g":"cr","p":2,"x":2445,"y":1000},{"g":"cr","p":2,"x":2425,"y":1010},{"g":"cr","p":2,"x":2422,"y":967},{"g":"cr","p":2,"x":2435,"y":960},{"g":"cr","p":2,"x":2447,"y":975},{"g":"cr","p":2,"x":2445,"y":1000},
{"g":"so","p":1,"x":3205,"y":115},{"g":"so","p":1,"x":3080,"y":65},{"g":"so","p":1,"x":2990,"y":60},{"g":"so","p":1,"x":2895,"y":70},{"g":"so","p":1,"x":2810,"y":100},{"g":"so","p":1,"x":2740,"y":155},{"g":"so","p":1,"x":2700,"y":240},{"g":"so","p":1,"x":2685,"y":370},{"g":"so","p":1,"x":2700,"y":470},{"g":"so","p":1,"x":2730,"y":540},{"g":"so","p":1,"x":2765,"y":575},{"g":"so","p":1,"x":2860,"y":632},{"g":"so","p":1,"x":2980,"y":648},{"g":"so","p":1,"x":3090,"y":650},{"g":"so","p":1,"x":3210,"y":620},
{"g":"so","p":2,"x":3210,"y":1017},{"g":"so","p":2,"x":3120,"y":975},{"g":"so","p":2,"x":3070,"y":965},{"g":"so","p":2,"x":3020,"y":972},{"g":"so","p":2,"x":2930,"y":995},{"g":"so","p":2,"x":2870,"y":1015},{"g":"so","p":2,"x":2770,"y":1065},{"g":"so","p":2,"x":2720,"y":1125},{"g":"so","p":2,"x":2695,"y":1205},{"g":"so","p":2,"x":2690,"y":1275},{"g":"so","p":2,"x":2705,"y":1375},{"g":"so","p":2,"x":2735,"y":1435},{"g":"so","p":2,"x":2785,"y":1485},{"g":"so","p":2,"x":2870,"y":1520},{"g":"so","p":2,"x":2970,"y":1545},{"g":"so","p":2,"x":3040,"y":1547},{"g":"so","p":2,"x":3150,"y":1530},{"g":"so","p":2,"x":3210,"y":1515},
{"g":"ko","p":1,"x":2895,"y":68},{"g":"ko","p":1,"x":2990,"y":60},{"g":"ko","p":2,"x":3080,"y":67},{"g":"ko","p":2,"x":3200,"y":115},{"g":"ko","p":3,"x":2685,"y":375},{"g":"ko","p":3,"x":2695,"y":450},{"g":"ko","p":4,"x":2980,"y":648},{"g":"ko","p":4,"x":3090,"y":652},{"g":"ko","p":5,"x":3095,"y":648},{"g":"ko","p":5,"x":3170,"y":632},{"g":"ko","p":6,"x":3020,"y":975},{"g":"ko","p":6,"x":3120,"y":980},{"g":"ko","p":7,"x":2870,"y":1015},{"g":"ko","p":7,"x":2770,"y":1060},{"g":"ko","p":8,"x":2720,"y":1130},{"g":"ko","p":8,"x":2700,"y":1180},{"g":"ko","p":9,"x":2695,"y":1275},{"g":"ko","p":9,"x":2705,"y":1355},{"g":"ko","p":10,"x":3040,"y":1547},{"g":"ko","p":10,"x":3075,"y":1543},
{"g":"sr","p":1,"x":3210,"y":620},{"g":"sr","p":1,"x":3230,"y":595},{"g":"sr","p":1,"x":3215,"y":590},{"g":"sr","p":1,"x":3210,"y":510},{"g":"sr","p":1,"x":3190,"y":420},{"g":"sr","p":1,"x":3140,"y":330},{"g":"sr","p":1,"x":3070,"y":260},{"g":"sr","p":1,"x":3020,"y":210},{"g":"sr","p":1,"x":2980,"y":150},{"g":"sr","p":1,"x":2955,"y":80},{"g":"sr","p":1,"x":2953,"y":50},{"g":"sr","p":1,"x":2970,"y":22},{"g":"sr","p":1,"x":3020,"y":22},{"g":"sr","p":1,"x":3080,"y":38},{"g":"sr","p":1,"x":3150,"y":75},{"g":"sr","p":1,"x":3205,"y":112},
{"g":"sr","p":2,"x":3210,"y":1525},{"g":"sr","p":2,"x":3213,"y":1510},{"g":"sr","p":2,"x":3235,"y":1500},{"g":"sr","p":2,"x":3230,"y":1465},{"g":"sr","p":2,"x":3190,"y":1405},{"g":"sr","p":2,"x":3120,"y":1345},{"g":"sr","p":2,"x":3065,"y":1280},{"g":"sr","p":2,"x":3048,"y":1215},{"g":"sr","p":2,"x":3055,"y":1155},{"g":"sr","p":2,"x":3085,"y":1085},{"g":"sr","p":2,"x":3098,"y":1000},{"g":"sr","p":2,"x":3120,"y":977},{"g":"sr","p":2,"x":3150,"y":985},{"g":"sr","p":2,"x":3205,"y":1015}
]},
"data":{"name":"paths"},
"transform":[{"window":[{"op":"row_number","as":"i"}]}],
"encoding":{"x":{"field":"x","type":"quantitative","scale":{"domain":[0,3321],"nice":false,"zero":false},"axis":null},"y":{"field":"y","type":"quantitative","scale":{"domain":[1782,0],"nice":false,"zero":false},"axis":null}},
"layer":[
{"data":{"name":"bg"},"mark":{"type":"rect"},"encoding":{"x2":{"field":"x2"},"y2":{"field":"y2"},"fill":{"field":"k","type":"nominal","legend":null,"scale":{"domain":["c","p"],"range":["#fcfdbf","#2f1163"]}}}},
{"transform":[{"filter":"datum.g=='rl'||datum.g=='rm'||datum.g=='rh'"}],"mark":{"type":"line","color":"#3a0f6a","strokeWidth":40,"strokeCap":"round","strokeJoin":"round"},"encoding":{"detail":{"field":"p"},"order":{"field":"i"}}},
{"transform":[{"filter":"datum.g=='rl'||datum.g=='rm'||datum.g=='rh'"}],"mark":{"type":"line","color":"#4a1274","strokeWidth":33,"strokeCap":"round","strokeJoin":"round"},"encoding":{"detail":{"field":"p"},"order":{"field":"i"}}},
{"transform":[{"filter":"datum.g=='rl'||datum.g=='rm'||datum.g=='rh'"}],"mark":{"type":"line","color":"#5b177c","strokeWidth":26,"strokeCap":"round","strokeJoin":"round"},"encoding":{"detail":{"field":"p"},"order":{"field":"i"}}},
{"transform":[{"filter":"datum.g=='rm'||datum.g=='rh'"}],"mark":{"type":"line","color":"#6f1e81","strokeWidth":27,"strokeCap":"round","strokeJoin":"round"},"encoding":{"detail":{"field":"p"},"order":{"field":"i"}}},
{"transform":[{"filter":"datum.g=='rm'||datum.g=='rh'"}],"mark":{"type":"line","color":"#862780","strokeWidth":22,"strokeCap":"round","strokeJoin":"round"},"encoding":{"detail":{"field":"p"},"order":{"field":"i"}}},
{"transform":[{"filter":"datum.g=='rm'||datum.g=='rh'"}],"mark":{"type":"line","color":"#a4317e","strokeWidth":18,"strokeCap":"round","strokeJoin":"round"},"encoding":{"detail":{"field":"p"},"order":{"field":"i"}}},
{"transform":[{"filter":"datum.g=='rm'||datum.g=='rh'"}],"mark":{"type":"line","color":"#c63d74","strokeWidth":14,"strokeCap":"round","strokeJoin":"round"},"encoding":{"detail":{"field":"p"},"order":{"field":"i"}}},
{"transform":[{"filter":"datum.g=='rm'||datum.g=='rh'"}],"mark":{"type":"line","color":"#df5068","strokeWidth":10,"strokeCap":"round","strokeJoin":"round"},"encoding":{"detail":{"field":"p"},"order":{"field":"i"}}},
{"transform":[{"filter":"datum.g=='rh'"}],"mark":{"type":"line","color":"#9e2f7f","strokeWidth":30,"strokeCap":"round","strokeJoin":"round"},"encoding":{"detail":{"field":"p"},"order":{"field":"i"}}},
{"transform":[{"filter":"datum.g=='rh'"}],"mark":{"type":"line","color":"#cd4071","strokeWidth":26,"strokeCap":"round","strokeJoin":"round"},"encoding":{"detail":{"field":"p"},"order":{"field":"i"}}},
{"transform":[{"filter":"datum.g=='rh'"}],"mark":{"type":"line","color":"#f1605d","strokeWidth":22,"strokeCap":"round","strokeJoin":"round"},"encoding":{"detail":{"field":"p"},"order":{"field":"i"}}},
{"transform":[{"filter":"datum.g=='rh'"}],"mark":{"type":"line","color":"#fd9668","strokeWidth":18,"strokeCap":"round","strokeJoin":"round"},"encoding":{"detail":{"field":"p"},"order":{"field":"i"}}},
{"transform":[{"filter":"datum.g=='rh'"}],"mark":{"type":"line","color":"#feca8d","strokeWidth":13,"strokeCap":"round","strokeJoin":"round"},"encoding":{"detail":{"field":"p"},"order":{"field":"i"}}},
{"transform":[{"filter":"datum.g=='rh'"}],"mark":{"type":"line","color":"#fcf5b8","strokeWidth":8,"strokeCap":"round","strokeJoin":"round"},"encoding":{"detail":{"field":"p"},"order":{"field":"i"}}},
{"transform":[{"filter":"datum.g=='rb'"}],"mark":{"type":"line","color":"#521478","strokeWidth":58,"strokeCap":"round","strokeJoin":"round"},"encoding":{"detail":{"field":"p"},"order":{"field":"i"}}},
{"transform":[{"filter":"datum.g=='rb'"}],"mark":{"type":"line","color":"#882880","strokeWidth":55,"strokeCap":"round","strokeJoin":"round"},"encoding":{"detail":{"field":"p"},"order":{"field":"i"}}},
{"transform":[{"filter":"datum.g=='rb'"}],"mark":{"type":"line","color":"#b63779","strokeWidth":52,"strokeCap":"round","strokeJoin":"round"},"encoding":{"detail":{"field":"p"},"order":{"field":"i"}}},
{"transform":[{"filter":"datum.g=='rb'"}],"mark":{"type":"line","color":"#f1605d","strokeWidth":49,"strokeCap":"round","strokeJoin":"round"},"encoding":{"detail":{"field":"p"},"order":{"field":"i"}}},
{"transform":[{"filter":"datum.g=='rb'"}],"mark":{"type":"line","color":"#feb07a","strokeWidth":46,"strokeCap":"round","strokeJoin":"round"},"encoding":{"detail":{"field":"p"},"order":{"field":"i"}}},
{"transform":[{"filter":"datum.g=='rb'"}],"mark":{"type":"line","color":"#fcf5b8","strokeWidth":43,"strokeCap":"round","strokeJoin":"round"},"encoding":{"detail":{"field":"p"},"order":{"field":"i"}}},
{"data":{"name":"spots"},"mark":{"type":"point","filled":true,"shape":"circle","size":80,"opacity":0.5,"color":"#feb07a"}},
{"data":{"name":"spots"},"mark":{"type":"point","filled":true,"shape":"circle","size":26,"opacity":0.75,"color":"#f9795d"}},
{"transform":[{"filter":"datum.g=='s1'"}],"mark":{"type":"line","color":"#fdf1b3","strokeWidth":94,"strokeCap":"round","strokeJoin":"round"},"encoding":{"detail":{"field":"p"},"order":{"field":"i"}}},
{"transform":[{"filter":"datum.g=='s1'"}],"mark":{"type":"line","color":"#fde4a6","strokeWidth":91,"strokeCap":"round","strokeJoin":"round"},"encoding":{"detail":{"field":"p"},"order":{"field":"i"}}},
{"transform":[{"filter":"datum.g=='s1'"}],"mark":{"type":"line","color":"#feca8d","strokeWidth":88,"strokeCap":"round","strokeJoin":"round"},"encoding":{"detail":{"field":"p"},"order":{"field":"i"}}},
{"transform":[{"filter":"datum.g=='s1'"}],"mark":{"type":"line","color":"#feb07a","strokeWidth":85,"strokeCap":"round","strokeJoin":"round"},"encoding":{"detail":{"field":"p"},"order":{"field":"i"}}},
{"transform":[{"filter":"datum.g=='s1'"}],"mark":{"type":"line","color":"#fd9668","strokeWidth":82,"strokeCap":"round","strokeJoin":"round"},"encoding":{"detail":{"field":"p"},"order":{"field":"i"}}},
{"transform":[{"filter":"datum.g=='s1'"}],"mark":{"type":"line","color":"#f77b62","strokeWidth":79,"strokeCap":"round","strokeJoin":"round"},"encoding":{"detail":{"field":"p"},"order":{"field":"i"}}},
{"transform":[{"filter":"datum.g=='s1'"}],"mark":{"type":"line","color":"#f1605d","strokeWidth":76,"strokeCap":"round","strokeJoin":"round"},"encoding":{"detail":{"field":"p"},"order":{"field":"i"}}},
{"transform":[{"filter":"datum.g=='s1'"}],"mark":{"type":"line","color":"#df5068","strokeWidth":73,"strokeCap":"round","strokeJoin":"round"},"encoding":{"detail":{"field":"p"},"order":{"field":"i"}}},
{"transform":[{"filter":"datum.g=='s1'"}],"mark":{"type":"line","color":"#cd4071","strokeWidth":71,"strokeCap":"round","strokeJoin":"round"},"encoding":{"detail":{"field":"p"},"order":{"field":"i"}}},
{"transform":[{"filter":"datum.g=='s1'"}],"mark":{"type":"line","color":"#b63779","strokeWidth":69,"strokeCap":"round","strokeJoin":"round"},"encoding":{"detail":{"field":"p"},"order":{"field":"i"}}},
{"transform":[{"filter":"datum.g=='s1'"}],"mark":{"type":"line","color":"#9e2f7f","strokeWidth":67,"strokeCap":"round","strokeJoin":"round"},"encoding":{"detail":{"field":"p"},"order":{"field":"i"}}},
{"transform":[{"filter":"datum.g=='s1'"}],"mark":{"type":"line","color":"#882880","strokeWidth":65,"strokeCap":"round","strokeJoin":"round"},"encoding":{"detail":{"field":"p"},"order":{"field":"i"}}},
{"transform":[{"filter":"datum.g=='s1'"}],"mark":{"type":"line","color":"#721f81","strokeWidth":63,"strokeCap":"round","strokeJoin":"round"},"encoding":{"detail":{"field":"p"},"order":{"field":"i"}}},
{"transform":[{"filter":"datum.g=='s1'"}],"mark":{"type":"line","color":"#5b177c","strokeWidth":61,"strokeCap":"round","strokeJoin":"round"},"encoding":{"detail":{"field":"p"},"order":{"field":"i"}}},
{"transform":[{"filter":"datum.g=='s1'"}],"mark":{"type":"line","color":"#440f76","strokeWidth":59,"strokeCap":"round","strokeJoin":"round"},"encoding":{"detail":{"field":"p"},"order":{"field":"i"}}},
{"transform":[{"filter":"datum.g=='s1'"}],"mark":{"type":"line","color":"#2e0f59","strokeWidth":57,"strokeCap":"round","strokeJoin":"round"},"encoding":{"detail":{"field":"p"},"order":{"field":"i"}}},
{"transform":[{"filter":"datum.g=='s1'"}],"mark":{"type":"line","color":"#180f3d","strokeWidth":55,"strokeCap":"round","strokeJoin":"round"},"encoding":{"detail":{"field":"p"},"order":{"field":"i"}}},
{"transform":[{"filter":"datum.g=='s1'"}],"mark":{"type":"line","color":"#0c0820","strokeWidth":52,"strokeCap":"round","strokeJoin":"round"},"encoding":{"detail":{"field":"p"},"order":{"field":"i"}}},
{"transform":[{"filter":"datum.g=='s1'"}],"mark":{"type":"line","color":"#000004","strokeWidth":48,"strokeCap":"round","strokeJoin":"round"},"encoding":{"detail":{"field":"p"},"order":{"field":"i"}}},
{"transform":[{"filter":"datum.g=='s2'"}],"mark":{"type":"line","color":"#2e0f59","strokeWidth":51,"strokeCap":"round","strokeJoin":"round"},"encoding":{"detail":{"field":"p"},"order":{"field":"i"}}},
{"transform":[{"filter":"datum.g=='s2'"}],"mark":{"type":"line","color":"#1f0f45","strokeWidth":47,"strokeCap":"round","strokeJoin":"round"},"encoding":{"detail":{"field":"p"},"order":{"field":"i"}}},
{"transform":[{"filter":"datum.g=='s2'"}],"mark":{"type":"line","color":"#0f0a2a","strokeWidth":43,"strokeCap":"round","strokeJoin":"round"},"encoding":{"detail":{"field":"p"},"order":{"field":"i"}}},
{"transform":[{"filter":"datum.g=='s2'"}],"mark":{"type":"line","color":"#000004","strokeWidth":38,"strokeCap":"round","strokeJoin":"round"},"encoding":{"detail":{"field":"p"},"order":{"field":"i"}}},
{"data":{"name":"masks"},"mark":{"type":"rect","color":"#ffffff"},"encoding":{"x2":{"field":"x2"},"y2":{"field":"y2"}}},
{"data":{"name":"cb"},"mark":{"type":"rect","stroke":"#8d8d75","strokeWidth":1,"fill":{"gradient":"linear","x1":0,"y1":1,"x2":0,"y2":0,"stops":[{"offset":0,"color":"#000004"},{"offset":0.111,"color":"#180f3d"},{"offset":0.222,"color":"#440f76"},{"offset":0.333,"color":"#721f81"},{"offset":0.444,"color":"#9e2f7f"},{"offset":0.556,"color":"#cd4071"},{"offset":0.667,"color":"#f1605d"},{"offset":0.778,"color":"#fd9668"},{"offset":0.889,"color":"#feca8d"},{"offset":1,"color":"#fcfdbf"}]}},"encoding":{"x2":{"field":"x2"},"y2":{"field":"y2"}}},
{"data":{"name":"ticks"},"mark":{"type":"rule","color":"#222222","strokeWidth":1},"encoding":{"x2":{"field":"x2"}}},
{"data":{"name":"ticks"},"mark":{"type":"text","font":"DejaVu Sans","fontSize":13,"align":"left","baseline":"middle","color":"#111111"},"encoding":{"x":{"field":"tx","type":"quantitative"},"text":{"field":"label"}}},
{"transform":[{"filter":"datum.g=='t'"}],"mark":{"type":"line","color":"#4682b4","strokeWidth":3,"strokeDash":[2.6,0.5],"strokeJoin":"round"},"encoding":{"detail":{"field":"p"},"order":{"field":"i"}}},
{"transform":[{"filter":"datum.g=='t'&&indexof([15,16,17,18,19,27,28,45,46,47,48,49,57,58,85,90,91,92,125,130,131,132],datum.p)>=0"}],"mark":{"type":"line","color":"#4682b4","strokeWidth":6,"strokeDash":[3,1],"strokeJoin":"round"},"encoding":{"detail":{"field":"p"},"order":{"field":"i"}}},
{"transform":[{"filter":"datum.g=='rd'"}],"mark":{"type":"line","color":"#dc143c","strokeWidth":3},"encoding":{"detail":{"field":"p"},"order":{"field":"i"}}},
{"transform":[{"filter":"datum.g=='or'"}],"mark":{"type":"line","color":"#ffa500","strokeWidth":3,"interpolate":"catmull-rom"},"encoding":{"detail":{"field":"p"},"order":{"field":"i"}}},
{"data":{"name":"discs"},"mark":{"type":"point","filled":true,"shape":"circle","size":59536,"opacity":1,"color":"#adadad"}},
{"transform":[{"filter":"datum.g=='k'"}],"mark":{"type":"line","color":"#000000","strokeWidth":1.6,"interpolate":"catmull-rom"},"encoding":{"detail":{"field":"p"},"order":{"field":"i"}}},
{"transform":[{"filter":"datum.g=='co'"}],"mark":{"type":"line","color":"#ffa500","strokeWidth":2.2,"interpolate":"catmull-rom"},"encoding":{"detail":{"field":"p"},"order":{"field":"i"}}},
{"transform":[{"filter":"datum.g=='cr'"}],"mark":{"type":"line","color":"#dc143c","strokeWidth":2.2,"interpolate":"catmull-rom"},"encoding":{"detail":{"field":"p"},"order":{"field":"i"}}},
{"transform":[{"filter":"datum.g=='so'"}],"mark":{"type":"line","color":"#ffa500","strokeWidth":1.8,"interpolate":"catmull-rom"},"encoding":{"detail":{"field":"p"},"order":{"field":"i"}}},
{"transform":[{"filter":"datum.g=='ko'"}],"mark":{"type":"line","color":"#000000","strokeWidth":1.8},"encoding":{"detail":{"field":"p"},"order":{"field":"i"}}},
{"transform":[{"filter":"datum.g=='sr'"}],"mark":{"type":"line","color":"#c8173f","strokeWidth":1.7,"interpolate":"catmull-rom"},"encoding":{"detail":{"field":"p"},"order":{"field":"i"}}},
{"data":{"name":"nav"},"mark":{"type":"point","filled":true,"shape":"circle","size":10,"opacity":1,"color":"#1f2a6b"}},
{"data":{"name":"txt"},"transform":[{"filter":"datum.k=='m'"}],"mark":{"type":"text","font":"Liberation Serif","fontSize":25,"align":"left","baseline":"alphabetic","color":"#1a1a1a"},"encoding":{"text":{"field":"label"}}},
{"data":{"name":"txt"},"transform":[{"filter":"datum.k=='c'"}],"mark":{"type":"text","font":"Liberation Serif","fontSize":20.5,"align":"left","baseline":"alphabetic","color":"#1a1a1a"},"encoding":{"text":{"field":"label"}}},
{"data":{"name":"txt"},"transform":[{"filter":"datum.k=='s'"}],"mark":{"type":"text","font":"Liberation Serif","fontSize":16,"align":"left","baseline":"alphabetic","color":"#1a1a1a"},"encoding":{"text":{"field":"label"}}}
]}
